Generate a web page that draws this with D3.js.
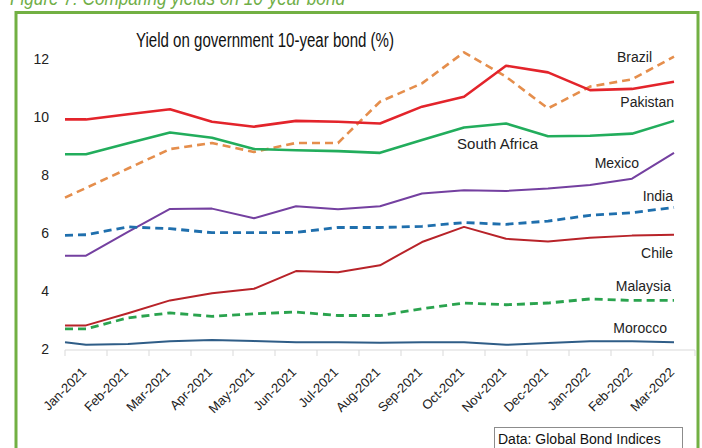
<!DOCTYPE html>
<html><head><meta charset="utf-8">
<script src="https://cdn.jsdelivr.net/npm/d3@7"></script>
<style>
html,body{margin:0;padding:0;background:#fff;}
svg{display:block;font-family:"Liberation Sans",Arial,sans-serif;}
</style></head>
<body><svg id="c" width="702" height="448"></svg>
<script>
// ---- data ----
const months = ["Jan-2021","Feb-2021","Mar-2021","Apr-2021","May-2021","Jun-2021","Jul-2021","Aug-2021","Sep-2021","Oct-2021","Nov-2021","Dec-2021","Jan-2022","Feb-2022","Mar-2022"];
// first value is the opening (start-of-period) point, then one per month
const pakistan    = [9.92,9.92,10.10,10.27,9.84,9.67,9.87,9.84,9.78,10.36,10.70,11.77,11.54,10.93,10.97,11.22];
const southAfrica = [8.72,8.72,9.10,9.47,9.29,8.90,8.86,8.83,8.77,9.21,9.64,9.78,9.34,9.36,9.43,9.87];
const brazil      = [7.23,7.56,8.23,8.90,9.11,8.80,9.11,9.11,10.53,11.16,12.23,11.39,10.30,11.05,11.30,12.08];
const mexico      = [5.23,5.23,6.05,6.84,6.85,6.52,6.93,6.83,6.93,7.37,7.48,7.46,7.54,7.66,7.88,8.77];
const india       = [5.93,5.95,6.22,6.16,6.02,6.02,6.03,6.20,6.20,6.24,6.37,6.31,6.42,6.62,6.71,6.89];
const chile       = [2.83,2.83,3.25,3.69,3.94,4.09,4.70,4.66,4.90,5.70,6.22,5.81,5.72,5.85,5.92,5.95];
const malaysia    = [2.71,2.71,3.09,3.26,3.14,3.23,3.29,3.17,3.17,3.40,3.60,3.54,3.60,3.74,3.69,3.69];
const morocco     = [2.25,2.16,2.19,2.28,2.33,2.29,2.25,2.25,2.23,2.25,2.25,2.16,2.22,2.28,2.28,2.25];
const yTicks = [2,4,6,8,10,12];

const series = [
  {name:"Brazil", values:brazil, color:"#e58e4c", width:2.6, dash:"8,5", lx:652, ly:57},
  {name:"Pakistan", values:pakistan, color:"#e3242b", width:2.6, dash:null, lx:674, ly:102},
  {name:"South Africa", values:southAfrica, color:"#22ad5c", width:2.6, dash:null, lx:538, ly:144},
  {name:"Mexico", values:mexico, color:"#7440a0", width:2, dash:null, lx:639, ly:163},
  {name:"India", values:india, color:"#1f6fad", width:2.8, dash:"8,5", lx:673, ly:196},
  {name:"Chile", values:chile, color:"#b82329", width:2, dash:null, lx:673, ly:253},
  {name:"Malaysia", values:malaysia, color:"#2aa34e", width:2.8, dash:"8,5", lx:671, ly:286},
  {name:"Morocco", values:morocco, color:"#2f5d87", width:2, dash:null, lx:667, ly:328}
];

const svg = d3.select("#c");
// caption (clipped at top, as in the source figure)
svg.append("text").attr("x",10).attr("y",5)
  .attr("font-size",21).attr("font-style","italic").attr("fill","#6fae47")
  .attr("textLength",335).attr("lengthAdjust","spacingAndGlyphs")
  .text("Figure 7: Comparing yields on 10-year bond");
// green frame
svg.append("rect").attr("x",16).attr("y",12.5).attr("width",682).attr("height",460)
  .attr("fill","none").attr("stroke","#72b043").attr("stroke-width",3);

const x = d3.scaleLinear().domain([-0.5, months.length - 0.5]).range([65, 695]);
const y = d3.scaleLinear().domain([2,12]).range([349.5, 59]);
const pos = [-0.5].concat(d3.range(months.length));

// title
svg.append("text").attr("x",136).attr("y",47)
  .attr("font-size",20).attr("fill","#111")
  .attr("textLength",258).attr("lengthAdjust","spacingAndGlyphs")
  .text("Yield on government 10-year bond (%)");

// y labels
svg.append("g").selectAll("text").data(yTicks).join("text")
  .attr("x",49).attr("y",d=>y(d)).attr("dy","0.35em").attr("text-anchor","end")
  .attr("font-size",14).attr("fill","#222").text(d=>d);

// x axis
const ax = svg.append("g").attr("transform","translate(0,350)");
ax.append("line").attr("x1",x(-0.5)).attr("x2",x(months.length-0.5)).attr("stroke","#d9d9d9").attr("stroke-width",1);
ax.selectAll("line.t").data(d3.range(-0.5, months.length, 1)).join("line").attr("class","t")
  .attr("x1",d=>x(d)).attr("x2",d=>x(d)).attr("y1",0).attr("y2",6).attr("stroke","#d9d9d9");
ax.selectAll("text").data(months).join("text")
  .attr("transform",(d,i)=>`translate(${x(i)+1},${23}) rotate(-45)`)
  .attr("text-anchor","end").attr("font-size",13).attr("fill","#222").text(d=>d);

// lines
const line = d3.line().x((d,i)=>x(pos[i])).y(d=>y(d));
svg.append("g").selectAll("path").data(series).join("path")
  .attr("d",s=>line(s.values)).attr("fill","none")
  .attr("stroke",s=>s.color).attr("stroke-width",s=>s.width)
  .attr("stroke-dasharray",s=>s.dash).attr("stroke-linejoin","round");

// labels
svg.append("g").selectAll("text").data(series).join("text")
  .attr("x",s=>s.lx).attr("y",s=>s.ly).attr("dy","0.35em").attr("text-anchor","end")
  .attr("font-size",s=>s.name==="South Africa"?15:14).attr("fill","#222").text(s=>s.name);

// source box
const sb = svg.append("g");
sb.append("rect").attr("x",494.5).attr("y",427.5).attr("width",188).attr("height",30)
  .attr("fill","#fff").attr("stroke","#8c8c8c").attr("stroke-width",1);
sb.append("text").attr("x",498).attr("y",439).attr("dy","0.35em").attr("font-size",14)
  .attr("fill","#111").text("Data: Global Bond Indices");
</script></body></html>
